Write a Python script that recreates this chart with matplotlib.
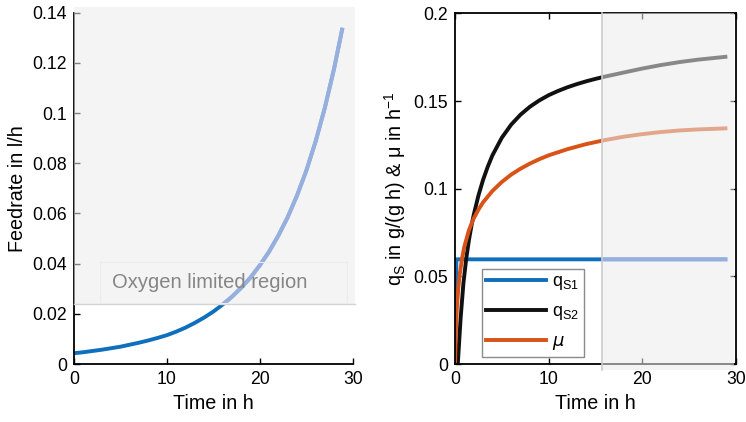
import matplotlib.pyplot as plt
from matplotlib.patches import Rectangle

plt.rcParams['font.family'] = ['Liberation Sans', 'DejaVu Sans']

# feed rate (left panel)
t_feed = [0, 1, 2, 3, 4, 5, 6, 7, 8, 9, 10, 11, 12, 13, 14, 15, 16, 17, 18, 19,
          20, 21, 22, 23, 24, 25, 26, 27, 28, 28.9]
feed = [0.0043, 0.0047, 0.0052, 0.0057, 0.0063, 0.0069, 0.0077, 0.0085, 0.0094, 0.0104,
        0.0115, 0.0129, 0.0145, 0.0164, 0.0185, 0.0209, 0.0237, 0.0268, 0.0304, 0.0345,
        0.0393, 0.0448, 0.0512, 0.0585, 0.0671, 0.0770, 0.0886, 0.1021, 0.1178, 0.1340]
o2_limit = 0.024

# uptake rates (right panel)
t_qs1 = [0, 0.15, 28.9]
qs1 = [0, 0.0597, 0.0597]

t_qs2 = [0.3, 0.6, 0.9, 1.2, 1.5, 1.8, 2.0, 2.5, 3, 3.5, 4, 5, 6, 7, 8, 9, 10, 11, 12,
         13, 14, 15, 16, 18, 20, 22, 24, 26, 28, 28.9]
qs2 = [0, 0.026, 0.046, 0.060, 0.071, 0.080, 0.085, 0.096, 0.105, 0.1125, 0.119, 0.129,
       0.1365, 0.1422, 0.1467, 0.1503, 0.1533, 0.1557, 0.1578, 0.1596, 0.1612, 0.1626,
       0.1639, 0.1662, 0.1685, 0.1705, 0.1722, 0.1736, 0.1747, 0.1752]

t_mu = [0, 0.1, 0.2, 0.35, 0.5, 0.75, 1.0, 1.5, 2.0, 2.5, 3, 4, 5, 6, 7, 8, 9, 10, 12,
        14, 16, 18, 20, 22, 24, 26, 28, 28.9]
mu = [0, 0.020, 0.032, 0.043, 0.051, 0.060, 0.067, 0.0765, 0.083, 0.088, 0.0922, 0.0987,
      0.1038, 0.108, 0.1114, 0.1143, 0.1168, 0.119, 0.1225, 0.1254, 0.1277, 0.1296,
      0.1311, 0.1323, 0.1332, 0.1338, 0.1342, 0.1344]
t_switch = 15.75

blue, light_blue = '#0f6fbd', '#97afdf'
black, orange = '#111111', '#D95319'
shade = dict(facecolor='#ebebeb', alpha=0.55, edgecolor='none', zorder=5, clip_on=False)

fig = plt.figure(figsize=(7.46, 4.22), dpi=100)
ax1 = fig.add_axes([0.0992, 0.1374, 0.3736, 0.8325])
ax2 = fig.add_axes([0.6099, 0.1374, 0.3763, 0.831])

# left
ax1.plot(t_feed, feed, color=blue, lw=2.8, solid_capstyle='butt')
ax1.set_xlim(0, 30)
ax1.set_ylim(0, 0.14)
ax1.set_xticks([0, 10, 20, 30])
ax1.set_yticks([0, 0.02, 0.04, 0.06, 0.08, 0.1, 0.12, 0.14])
ax1.set_yticklabels(['0', '0.02', '0.04', '0.06', '0.08', '0.1', '0.12', '0.14'])
ax1.spines['top'].set_visible(False)
ax1.spines['right'].set_visible(False)
region1 = Rectangle((-0.05, o2_limit), 30.35, 0.1424 - o2_limit, **shade)
ax1.add_patch(region1)
faded1, = ax1.plot(t_feed, feed, color=light_blue, lw=2.8, zorder=6, solid_capstyle='butt')
faded1.set_clip_path(region1)
ax1.plot([0, 30.3], [o2_limit, o2_limit], color='#d4d4d4', lw=1, zorder=6, clip_on=False)
ax1.add_patch(Rectangle((2.8, 0.0245), 26.6, 0.0162, facecolor='none',
                        edgecolor='#ececec', lw=0.8, zorder=6, clip_on=False))
ax1.text(14.6, 0.0325, 'Oxygen limited region', color='#858585', fontsize=14.5,
         ha='center', va='center', zorder=7)
ax1.set_xlabel('Time in h', fontsize=14.2)
ax1.set_ylabel('Feedrate in l/h', fontsize=14.2, labelpad=4)

# right
ax2.plot(t_qs1, qs1, color=blue, lw=2.8, label=r'$\mathregular{q_{S1}}$')
ax2.plot(t_qs2, qs2, color=black, lw=2.8, label=r'$\mathregular{q_{S2}}$')
ax2.plot(t_mu, mu, color=orange, lw=2.8, label=r'$\mu$')
ax2.set_xlim(0, 30)
ax2.set_ylim(0, 0.2)
ax2.set_xticks([0, 10, 20, 30])
ax2.set_yticks([0, 0.05, 0.1, 0.15, 0.2])
ax2.set_yticklabels(['0', '0.05', '0.1', '0.15', '0.2'])
ax2.tick_params(top=True, right=True)
region2 = Rectangle((t_switch, -0.0035), 29.85 - t_switch, 0.2035, **shade)
ax2.add_patch(region2)
faded2, = ax2.plot(t_qs1, qs1, color=light_blue, lw=2.8, zorder=6)
faded2.set_clip_path(region2)
ax2.plot([t_switch, t_switch], [-0.0035, 0.2], color='#cccccc', lw=1.2, zorder=6,
         clip_on=False)
leg = ax2.legend(loc='lower left', bbox_to_anchor=(0.095, 0.021), fontsize=13,
                 handlelength=3.3, fancybox=False, frameon=True, borderpad=0.25,
                 labelspacing=0.6, handletextpad=0.35, borderaxespad=0)
leg.get_frame().set_edgecolor('#8a8a8a')
leg.get_frame().set_linewidth(1.0)
leg.get_frame().set_alpha(1)
leg.set_zorder(4)
ax2.set_xlabel('Time in h', fontsize=14.2)
ax2.set_ylabel(r'$\mathregular{q_S}$ in g/(g h) & μ in h$^{\mathregular{-1}}$',
               fontsize=14.2, labelpad=4)

for ax in (ax1, ax2):
    ax.tick_params(direction='in', length=4, width=1, labelsize=12.7, pad=5)
    for s in ax.spines.values():
        s.set_linewidth(1.3)

fig.savefig('out.png', dpi=100)
